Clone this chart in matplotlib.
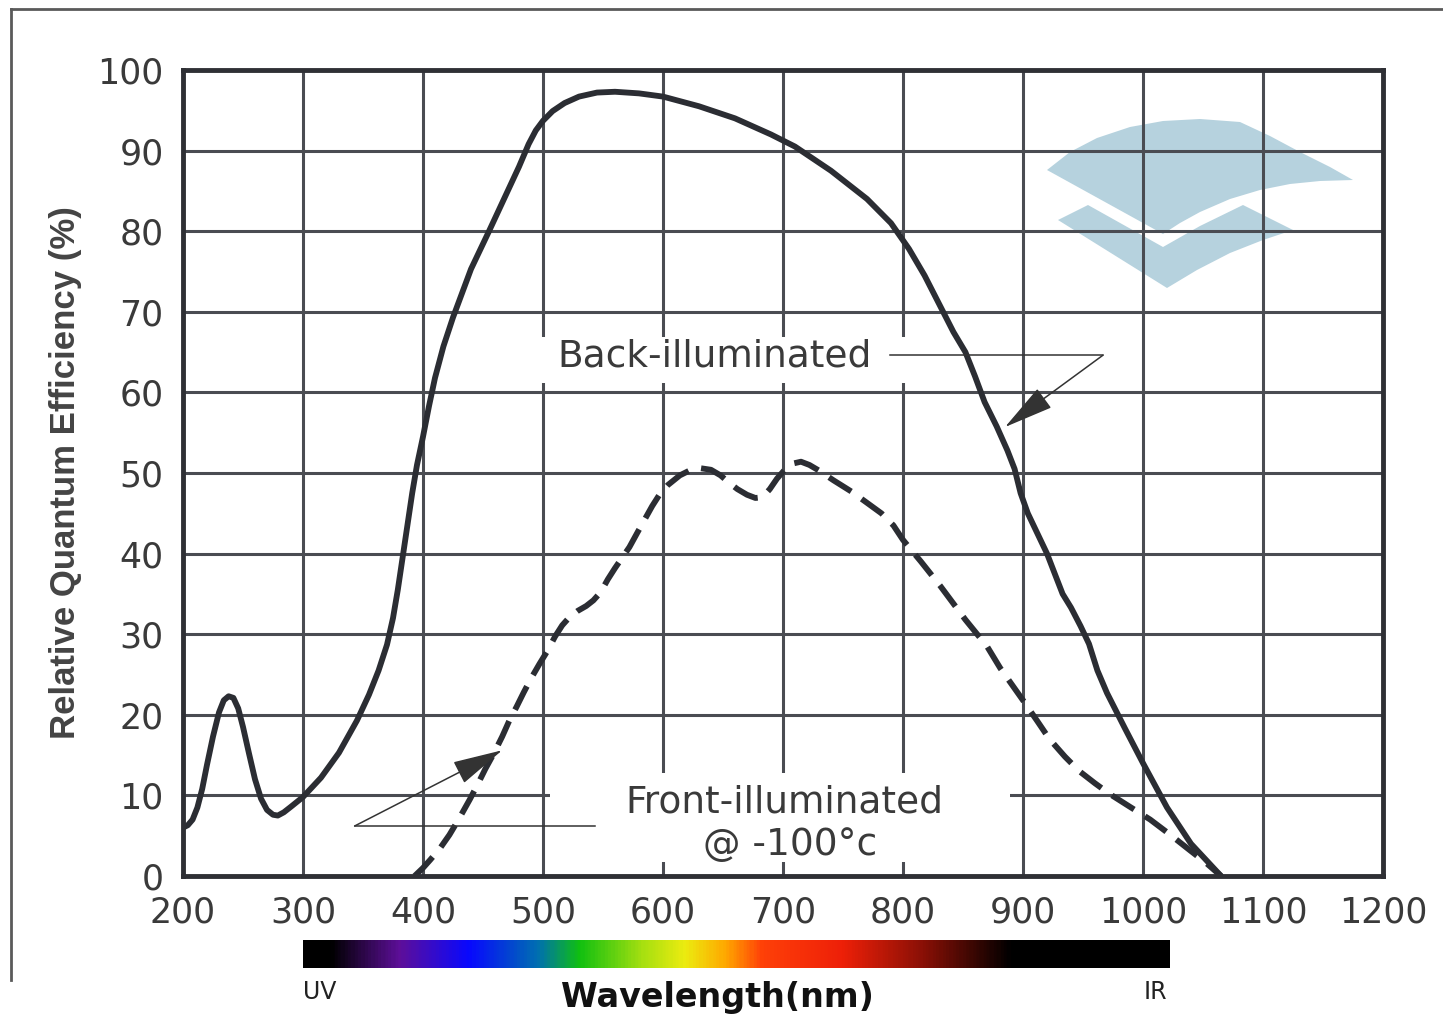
import numpy as np
import matplotlib
matplotlib.use("Agg")
import matplotlib.pyplot as plt
from matplotlib.colors import LinearSegmentedColormap
from matplotlib.patches import Polygon, Rectangle
from matplotlib.lines import Line2D

# ---- Data ------------------------------------------------------------------
back_nm = [200, 204, 208, 212, 216, 220, 225, 230, 234, 238, 242, 246, 250,
           255, 260, 265, 270, 275, 279, 284, 290, 300, 315, 330, 345, 355,
           363, 370, 375, 379, 383, 387, 391, 395, 400, 405, 410, 417, 425,
           440, 455, 470, 480, 488, 494, 500, 508, 518, 530, 545, 560, 580,
           600, 630, 660, 690, 710, 740, 770, 790, 805, 818, 830, 842, 852,
           860, 868, 878, 887, 893, 898, 904, 912, 920, 927, 933, 940, 948,
           955, 962, 970, 985, 1000, 1020, 1040, 1065]
back_qe = [6.0, 6.3, 7.0, 8.5, 10.8, 13.8, 17.3, 20.3, 21.8, 22.3, 22.1, 20.8,
           18.5, 15.2, 12.0, 9.6, 8.2, 7.6, 7.5, 7.9, 8.6, 9.8, 12.2, 15.3,
           19.3, 22.5, 25.5, 28.7, 32, 35.5, 39.5, 43.5, 47.5, 51, 54.5, 58.3,
           61.8, 65.7, 69.3, 75.3, 80, 84.8, 88, 90.8, 92.5, 93.7, 94.9, 95.9,
           96.7, 97.2, 97.3, 97.1, 96.7, 95.5, 94, 92, 90.5, 87.5, 84, 81,
           77.8, 74.5, 71, 67.5, 65, 62, 58.8, 55.8, 52.8, 50.5, 47.5, 45,
           42.5, 40, 37.3, 35, 33.3, 31, 28.8, 25.5, 22.7, 18.3, 14, 8.5, 4, 0]

front_nm = [393, 400, 406, 414, 422, 430, 439, 446, 452, 459, 466, 472, 478,
            484, 490, 497, 504, 510, 516, 522, 529, 536, 542, 548, 554, 560,
            566, 572, 579, 585, 591, 597, 604, 614, 622, 631, 640, 648, 655,
            662, 670, 677, 683, 689, 695, 702, 709, 715, 722, 730, 742, 757,
            770, 782, 792, 800, 815, 831, 852, 870, 881, 900, 912, 922, 935,
            947, 960, 972, 990, 1006, 1022, 1039, 1052, 1065]
front_qe = [0, 1.0, 2.0, 3.4, 5.1, 7.1, 9.5, 11.5, 13.3, 15.2, 17.3, 19.3, 21,
            22.8, 24.5, 26.3, 28, 29.7, 31.1, 32.1, 32.9, 33.5, 34.2, 35.2,
            36.8, 38.2, 39.5, 40.8, 42.7, 44.3, 45.9, 47.3, 48.5, 49.7, 50.3,
            50.6, 50.4, 49.7, 48.8, 48, 47.3, 46.9, 47, 48, 49.3, 50.5, 51.2,
            51.4, 51, 50.3, 49.1, 47.7, 46.3, 45, 43.5, 41.7, 39, 36, 31.8,
            28.5, 25.8, 21.8, 19.2, 17, 14.8, 13, 11.5, 10.2, 8.5, 7, 5.2, 3.2,
            1.7, 0]

x_ticks = list(range(200, 1201, 100))
y_ticks = list(range(0, 101, 10))

# label anchors (nm, %)
back_label = ("Back-illuminated", 643, 64.5)
front_label = ("Front-illuminated", 701, 9.1)
front_label2 = ("@ -100°c", 706, 3.9)
back_arrow_start = (966.5, 64.6)
back_arrow_tip = (885, 55.7)
back_leader_x = (789, 966.5)
front_arrow_start = (343, 6.2)
front_arrow_tip = (466, 15.6)
front_leader_x = (343, 543)

# white patches behind the labels (nm, %)
back_box = (497.5, 61.2, 805.8, 66.9)
front_box = (505.8, 1.7, 889.0, 12.8)

# spectrum strip colour stops
spec_pos = [0.0, 0.03, 0.11, 0.19, 0.27, 0.318, 0.392, 0.44, 0.487,
            0.53, 0.622, 0.716, 0.818, 1.0]
spec_col = ["#000000", "#000000", "#5e0f9a", "#0808ff", "#0070b0", "#10c010",
            "#a8e010", "#ecec10", "#ffa800", "#ff4008", "#ee2008", "#8a1006",
            "#000000", "#000000"]

# logo outline, in reference pixels (converted to axes fraction below)
logo_top_px = [(1047, 170), (1070, 152), (1097, 138), (1130, 127), (1163, 121),
               (1200, 119), (1240, 122), (1270, 136), (1300, 152), (1330, 167),
               (1353, 180), (1320, 181), (1290, 184), (1260, 190), (1230, 199),
               (1200, 212), (1180, 223), (1163, 234)]
logo_bot_px = [(1058, 220), (1088, 205), (1163, 247), (1200, 226), (1243, 205),
               (1293, 230), (1263, 240), (1230, 253), (1197, 270), (1167, 288)]


def px_to_axes(pts):
    return [((px - 183) / 1200, (876 - py) / 806) for px, py in pts]


INK = "#2b2d33"
GRID = "#4a4c52"
TXT = "#3a3a3a"

fig = plt.figure(figsize=(14.43, 10.18), dpi=100)
ax = fig.add_axes([183 / 1443, 1 - 876 / 1018, 1200 / 1443, 806 / 1018])

ax.set_xlim(200, 1200)
ax.set_ylim(0, 100)
ax.set_xticks(x_ticks)
ax.set_yticks(y_ticks)
ax.tick_params(length=0, labelsize=25, labelcolor=TXT, pad=14)
for lab in ax.get_xticklabels() + ax.get_yticklabels():
    lab.set_family("DejaVu Sans")
ax.grid(True, color=GRID, lw=2.2, zorder=1.5)
for sp in ax.spines.values():
    sp.set_linewidth(3.5)
    sp.set_color("#2f3035")
    sp.set_zorder(4)

ax.set_ylabel("Relative Quantum Efficiency (%)", family="Liberation Sans",
              fontweight="bold", fontsize=25, color="#444444", labelpad=11)

# logo behind the grid
for pts in (logo_top_px, logo_bot_px):
    ax.add_patch(Polygon(px_to_axes(pts), closed=True, transform=ax.transAxes,
                         facecolor="#b6d2de", edgecolor="none", zorder=0.5))

# white gaps in the grid behind labels
for x0, y0, x1, y1 in (back_box, front_box):
    ax.add_patch(Rectangle((x0, y0), x1 - x0, y1 - y0, facecolor="white",
                           edgecolor="none", zorder=1.8))

ax.plot(back_nm, back_qe, color=INK, lw=4.2, solid_capstyle="round",
        solid_joinstyle="round", zorder=3)
ax.plot(front_nm, front_qe, color=INK, lw=4.2, dashes=(4.5, 2.2),
        dash_capstyle="butt", dash_joinstyle="round", zorder=3)

for txt, x, y in (back_label, front_label, front_label2):
    ax.text(x, y, txt, ha="center", va="center", fontsize=27,
            family="DejaVu Sans", color=TXT, zorder=3.5)

arrow = dict(arrowstyle="-|>,head_length=1.6,head_width=0.38", lw=1.1,
             color="#333333", shrinkA=0, shrinkB=0, mutation_scale=20)
ax.plot(back_leader_x, [back_arrow_start[1]] * 2, color="#333333", lw=1.1,
        zorder=3)
ax.annotate("", xy=back_arrow_tip, xytext=back_arrow_start,
            arrowprops=arrow, zorder=3)
ax.plot(front_leader_x, [front_arrow_start[1]] * 2, color="#333333", lw=1.1,
        zorder=3)
ax.annotate("", xy=front_arrow_tip, xytext=front_arrow_start,
            arrowprops=arrow, zorder=3)

# spectrum strip under the axis
cmap = LinearSegmentedColormap.from_list("spec", list(zip(spec_pos, spec_col)))
sax = fig.add_axes([303 / 1443, 1 - 968 / 1018, 867 / 1443, 28 / 1018])
sax.imshow(np.linspace(0, 1, 600)[None, :], cmap=cmap, aspect="auto")
sax.set_axis_off()

fig.text(320 / 1443, 1 - 992 / 1018, "UV", ha="center", va="center",
         fontsize=17, color="#222222")
fig.text(1155 / 1443, 1 - 992 / 1018, "IR", ha="center", va="center",
         fontsize=17, color="#222222")
fig.text(717 / 1443, 1 - 998 / 1018, "Wavelength(nm)", ha="center",
         va="center", fontsize=24, fontweight="bold", color="#111111")

# outer frame (top and left only, as in the scan)
fig.add_artist(Line2D([10.5 / 1443, 1], [1 - 8.5 / 1018] * 2, color="#5a5a5a",
                      lw=2))
fig.add_artist(Line2D([10.5 / 1443] * 2, [1 - 8.5 / 1018, 1 - 980 / 1018],
                      color="#5a5a5a", lw=2))

fig.savefig("out.png", dpi=100)
